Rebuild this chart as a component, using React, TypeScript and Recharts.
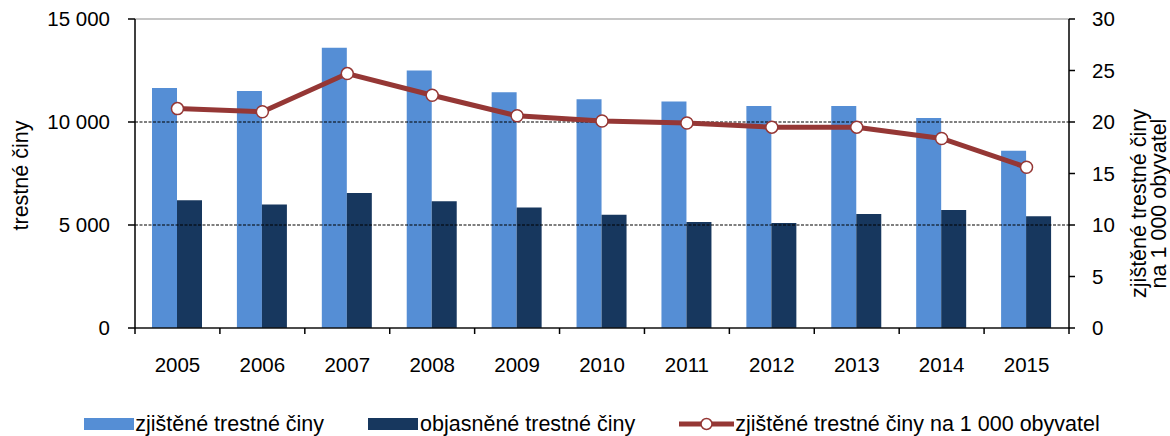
import React from "react";
import {
  ComposedChart,
  Bar,
  Line,
  XAxis,
  YAxis,
  ReferenceLine,
  Legend,
  Label,
} from "recharts";

const YEARS = ["2005", "2006", "2007", "2008", "2009", "2010", "2011", "2012", "2013", "2014", "2015"];
const ZJISTENE = [11650, 11500, 13600, 12500, 11450, 11100, 11000, 10780, 10780, 10200, 8600];
const OBJASNENE = [6200, 6000, 6550, 6150, 5850, 5500, 5150, 5100, 5530, 5730, 5430];
const NA_1000 = [21.3, 21.0, 24.7, 22.6, 20.6, 20.1, 19.9, 19.5, 19.5, 18.4, 15.6];
const LEFT_TICKS = [0, 5000, 10000, 15000];
const RIGHT_TICKS = [0, 5, 10, 15, 20, 25, 30];

const data = YEARS.map((year, i) => ({
  year,
  zjistene: ZJISTENE[i],
  objasnene: OBJASNENE[i],
  na1000: NA_1000[i],
}));

const FONT = '"Liberation Sans", Arial, sans-serif';
const LIGHT = "#558ED5";
const DARK = "#17375E";
const RED = "#953735";
const TICK_FS = 20.5;
const TITLE_FS = 21.5;

const W = 1170;
const H = 436;
const LEFT_W = 135;
const RIGHT_W = 101;
const BAND = (W - LEFT_W - RIGHT_W) / YEARS.length;

const fmt = (v: number) => (v >= 1000 ? `${Math.floor(v / 1000)} ${String(v % 1000).padStart(3, "0")}` : String(v));

// year label plus tick marks on the category borders
const YearTick = (props: any) => {
  const { x, y, payload } = props;
  const idx = YEARS.indexOf(payload.value);
  return (
    <g>
      <line x1={x - BAND / 2} x2={x - BAND / 2} y1={y} y2={y + 6} stroke="#000" strokeWidth={1.5} />
      {idx === YEARS.length - 1 && (
        <line x1={x + BAND / 2} x2={x + BAND / 2} y1={y} y2={y + 6} stroke="#000" strokeWidth={1.5} />
      )}
      <text x={x} y={y + 36} textAnchor="middle" dominantBaseline="central" fontSize={TICK_FS} fill="#000" fontFamily={FONT}>
        {payload.value}
      </text>
    </g>
  );
};

const LegendContent = () => (
  <div
    style={{
      height: 32,
      boxSizing: "border-box",
      paddingTop: 8,
      display: "flex",
      justifyContent: "center",
      alignItems: "center",
      gap: 44,
      fontFamily: FONT,
      fontSize: TITLE_FS,
      color: "#000",
      paddingLeft: 14,
      whiteSpace: "nowrap",
    }}
  >
    <div style={{ display: "flex", alignItems: "center" }}>
      <div style={{ width: 50, height: 12, background: LIGHT, marginRight: 1 }} />
      <span>zjištěné trestné činy</span>
    </div>
    <div style={{ display: "flex", alignItems: "center" }}>
      <div style={{ width: 50, height: 12, background: DARK, marginRight: 2 }} />
      <span>objasněné trestné činy</span>
    </div>
    <div style={{ display: "flex", alignItems: "center" }}>
      <svg width={55} height={14} style={{ marginRight: 1 }}>
        <line x1={0} x2={55} y1={7} y2={7} stroke={RED} strokeWidth={5} />
        <circle cx={27.5} cy={7} r={5.5} fill="#fff" stroke={RED} strokeWidth={1.5} />
      </svg>
      <span>zjištěné trestné činy na 1 000 obyvatel</span>
    </div>
  </div>
);

export default function App() {
  return (
    <div style={{ width: W, height: H, fontFamily: FONT }}>
      <style>{`body{margin:0}`}</style>
      <ComposedChart
        width={W}
        height={H}
        data={data}
        margin={{ top: 19, right: 0, bottom: 0, left: 0 }}
        barGap={0}
      >
        <XAxis
          dataKey="year"
          height={76}
          interval={0}
          tickLine={false}
          tickSize={0}
          tickMargin={0}
          axisLine={{ stroke: "#111", strokeWidth: 1.5 }}
          tick={<YearTick />}
        />
        <YAxis
          yAxisId="left"
          width={LEFT_W}
          domain={[0, 15000]}
          ticks={LEFT_TICKS}
          tickFormatter={fmt}
          tickSize={7}
          tickMargin={18}
          axisLine={{ stroke: "#000", strokeWidth: 1.5 }}
          tickLine={{ stroke: "#000", strokeWidth: 1.5 }}
          tick={{ fill: "#000", fontSize: TICK_FS, fontFamily: FONT }}
        >
          <Label
            content={(p: any) => {
              const vb = p.viewBox;
              const cx = 21;
              const cy = vb.y + vb.height / 2 + 2;
              return (
                <text
                  x={cx}
                  y={cy}
                  transform={`rotate(-90 ${cx} ${cy})`}
                  textAnchor="middle"
                  dominantBaseline="central"
                  fontSize={TITLE_FS}
                  fontFamily={FONT}
                  fill="#000"
                >
                  trestné činy
                </text>
              );
            }}
          />
        </YAxis>
        <YAxis
          yAxisId="right"
          orientation="right"
          width={RIGHT_W}
          domain={[0, 30]}
          ticks={RIGHT_TICKS}
          tickSize={6}
          tickMargin={17}
          axisLine={{ stroke: "#000", strokeWidth: 1.5 }}
          tickLine={{ stroke: "#000", strokeWidth: 1.5 }}
          tick={{ fill: "#000", fontSize: TICK_FS, fontFamily: FONT }}
        >
          <Label
            content={(p: any) => {
              const vb = p.viewBox;
              const cy = vb.y + vb.height / 2 + 30;
              const x1 = vb.x + 70;
              const x2 = vb.x + 90;
              return (
                <g fontSize={TITLE_FS} fontFamily={FONT} fill="#000">
                  <text x={x1} y={cy} transform={`rotate(-90 ${x1} ${cy})`} textAnchor="middle" dominantBaseline="central">
                    zjištěné trestné činy
                  </text>
                  <text x={x2} y={cy} transform={`rotate(-90 ${x2} ${cy})`} textAnchor="middle" dominantBaseline="central">
                    na 1 000 obyvatel
                  </text>
                </g>
              );
            }}
          />
        </YAxis>
        <ReferenceLine yAxisId="left" y={15000} stroke="#b3b3b3" strokeWidth={1.5} />
        <ReferenceLine yAxisId="left" y={10000} stroke="#000" strokeDasharray="3 1.5" strokeWidth={1.2} />
        <ReferenceLine yAxisId="left" y={5000} stroke="#000" strokeDasharray="3 1.5" strokeWidth={1.2} />
        <Bar yAxisId="left" dataKey="zjistene" name="zjištěné trestné činy" fill={LIGHT} barSize={25} isAnimationActive={false} />
        <Bar yAxisId="left" dataKey="objasnene" name="objasněné trestné činy" fill={DARK} barSize={25} isAnimationActive={false} />
        <Line
          yAxisId="right"
          dataKey="na1000"
          name="zjištěné trestné činy na 1 000 obyvatel"
          type="linear"
          stroke={RED}
          strokeWidth={5}
          dot={{ r: 6, fill: "#fff", stroke: RED, strokeWidth: 1.5 }}
          isAnimationActive={false}
        />
        <Legend verticalAlign="bottom" content={<LegendContent />} />
      </ComposedChart>
    </div>
  );
}
